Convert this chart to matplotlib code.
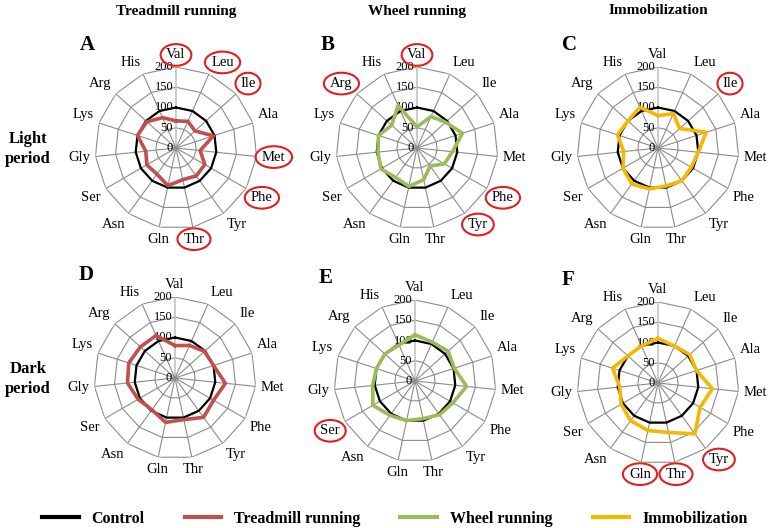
import numpy as np
import matplotlib
matplotlib.use('Agg')
import matplotlib.pyplot as plt
from matplotlib.lines import Line2D

plt.rcParams['font.family'] = ['Liberation Serif', 'DejaVu Serif']

amino_acids = ['Val', 'Leu', 'Ile', 'Ala', 'Met', 'Phe', 'Tyr', 'Thr',
               'Gln', 'Asn', 'Ser', 'Gly', 'Lys', 'Arg', 'His']
radial_ticks = [0, 50, 100, 150, 200]
control = [100] * 15
treadmill_light = [67, 72, 63, 97, 60, 82, 85, 80, 95, 80, 83, 75, 100, 97, 82]
wheel_light = [52, 85, 95, 118, 88, 78, 55, 80, 97, 90, 103, 97, 100, 84, 115]
immob_light = [80, 93, 72, 125, 100, 95, 100, 96, 103, 110, 100, 85, 105, 100, 110]
treadmill_dark = [80, 88, 98, 100, 125, 110, 120, 105, 112, 97, 105, 118, 120, 115, 115]
wheel_dark = [114, 105, 110, 102, 128, 108, 103, 95, 100, 105, 120, 105, 100, 100, 97]
immob_dark = [110, 100, 105, 100, 135, 120, 155, 125, 120, 115, 105, 95, 118, 100, 100]

col_titles = ['Treadmill running', 'Wheel running', 'Immobilization']
row_titles = ['Light\nperiod', 'Dark\nperiod']
panel_letters = ['A', 'B', 'C', 'D', 'E', 'F']
circled_A = ['Val', 'Leu', 'Ile', 'Met', 'Phe', 'Thr']
circled_B = ['Val', 'Arg', 'Phe', 'Tyr']
circled_C = ['Ile']
circled_D = []
circled_E = ['Ser']
circled_F = ['Gln', 'Thr', 'Tyr']
legend_labels = ['Control', 'Treadmill running', 'Wheel running', 'Immobilization']

c_ctrl = 'black'
c_tread = '#c0504d'
c_wheel = '#9bbb59'
c_immob = '#f5b800'
grid_c = '#8c8c8c'

W, H = 774, 528
fig = plt.figure(figsize=(W / 100, H / 100), dpi=100)
fig.patch.set_facecolor('white')

n = len(amino_acids)
theta = np.linspace(0, 2 * np.pi, n, endpoint=False)
theta_c = np.append(theta, theta[0])


def close(v):
    return list(v) + [v[0]]


def panel(cx, cy, values, color, letter, circled):
    R = 81
    ax = fig.add_axes([(cx - R) / W, (H - cy - R) / H, 2 * R / W, 2 * R / H],
                      projection='polar')
    ax.set_theta_zero_location('N')
    ax.set_theta_direction(-1)
    ax.set_ylim(0, 200)
    ax.set_axis_off()
    for r in radial_ticks[1:]:
        ax.plot(theta_c, [r] * (n + 1), color=grid_c, lw=0.8, zorder=1)
    for i, t in enumerate(theta):
        ax.plot([t, t], [0, 200], color='#c4c4c4' if i == 0 else grid_c,
                lw=1.2 if i == 0 else 0.8, zorder=1)
    ax.plot(theta_c, close(control), color=c_ctrl, lw=1.6, zorder=3)
    ax.plot(theta_c, close(values), color=color, lw=2.6, zorder=4)
    for v in radial_ticks:
        ax.annotate(str(v), xy=(0, v), xytext=(-2, 0), textcoords='offset points',
                    ha='right', va='center', fontsize=9, annotation_clip=False,
                    zorder=2)
    for lab, t in zip(amino_acids, theta):
        s, c = np.sin(t), np.cos(t)
        ha = 'center' if abs(s) < 0.3 else ('left' if s > 0 else 'right')
        va = 'center' if abs(c) < 0.3 else ('bottom' if c > 0 else 'top')
        kw = {}
        if lab in circled:
            kw['bbox'] = dict(boxstyle='ellipse,pad=0.08', fc='none', ec='#e0201c', lw=1.5)
        ax.annotate(lab, xy=(t, 200), xytext=(4 * s, 4 * c), textcoords='offset points',
                    ha=ha, va=va, fontsize=10.5, annotation_clip=False, **kw)
    fig.text(cx - 96, H - (cy - 103), letter, transform=None,
             fontsize=15, fontweight='bold', ha='left', va='center')


centers = [(176, 148), (417, 148), (658, 148), (175, 378), (415, 381), (658, 383)]
series = [treadmill_light, wheel_light, immob_light, treadmill_dark, wheel_dark, immob_dark]
colors = [c_tread, c_wheel, c_immob, c_tread, c_wheel, c_immob]
circled = [circled_A, circled_B, circled_C, circled_D, circled_E, circled_F]

for (cx, cy), vals, col, let, circ in zip(centers, series, colors, panel_letters, circled):
    panel(cx, cy, vals, col, let, circ)

for t, x in zip(col_titles, [176, 417, 658]):
    fig.text(x / W, 1 - 11 / H, t, ha='center', va='center', fontsize=11, fontweight='bold')
for t, y in zip(row_titles, [149, 379]):
    fig.text(28 / W, 1 - y / H, t, ha='center', va='center', fontsize=12,
             fontweight='bold', linespacing=1.3)

handles = [Line2D([], [], color=c, lw=3) for c in [c_ctrl, c_tread, c_wheel, c_immob]]
fig.legend(handles, legend_labels, ncol=4, loc='center', bbox_to_anchor=(0.51, 1 - 519 / H),
           frameon=False, prop={'weight': 'bold', 'size': 11.5},
           handlelength=2.3, handletextpad=0.8, columnspacing=2.5)

fig.savefig('out.png', dpi=100, facecolor='white')
